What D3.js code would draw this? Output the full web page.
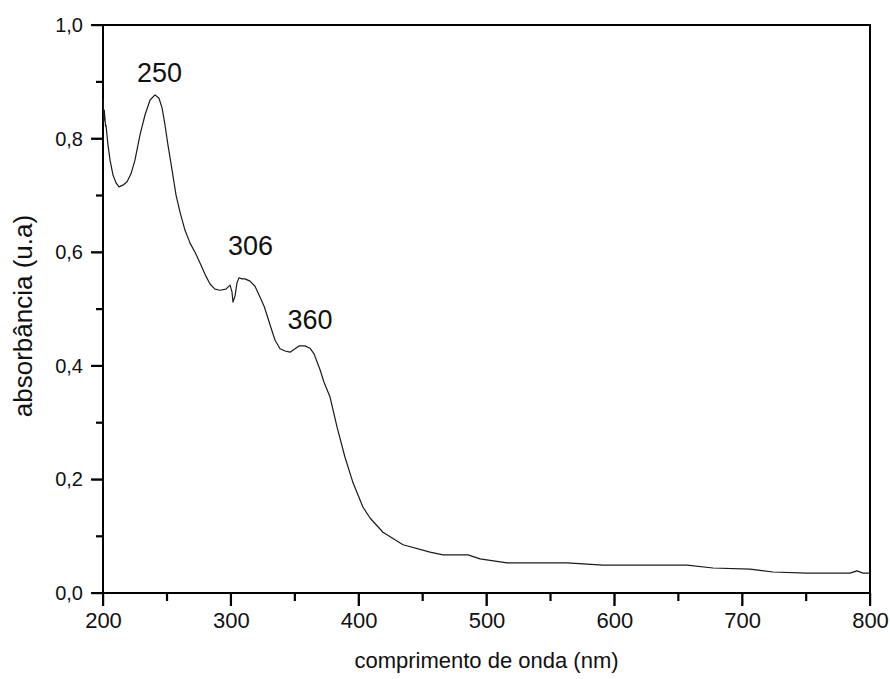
<!DOCTYPE html>
<html><head><meta charset="utf-8">
<script src="https://cdn.jsdelivr.net/npm/d3@7"></script>
<style>
body{margin:0;background:#fff;}
text{font-family:Arial,"Liberation Sans",sans-serif;fill:#111;}
</style></head>
<body><svg id="c" width="890" height="679"></svg>
<script>
const wavelength = [200,200.5,201,202,202.3,203.9,205.5,207.8,210.2,212.5,215.6,218.8,221.9,225,228.9,232.9,236.8,240.7,243.8,246.2,248.5,250.8,254,257.1,260.2,264.1,268.1,272,275.9,279.8,283.7,287.6,291.5,296.2,299.4,300.9,301.7,303.3,304.8,306.4,308.7,311.1,315,318.9,322.8,326,328.3,331.4,334.6,338.5,342.4,346.3,350.2,353.3,358,361.9,365.1,367.4,369.8,372.9,377.6,383.1,389.3,395.6,403.4,408.9,419,434.7,455.8,466,485.5,494.9,516,563,591.1,656.9,677.2,706.1,724.1,750.7,784.3,789.8,794.5,799.2];
const absorbance = [0.870,0.830,0.850,0.822,0.824,0.789,0.762,0.736,0.722,0.715,0.718,0.724,0.738,0.762,0.806,0.842,0.868,0.877,0.871,0.854,0.824,0.789,0.745,0.701,0.671,0.639,0.616,0.600,0.581,0.561,0.544,0.535,0.533,0.535,0.542,0.530,0.512,0.523,0.546,0.555,0.553,0.553,0.549,0.540,0.521,0.505,0.489,0.467,0.445,0.430,0.426,0.424,0.430,0.435,0.435,0.431,0.421,0.407,0.393,0.371,0.345,0.292,0.239,0.194,0.151,0.132,0.107,0.085,0.072,0.067,0.067,0.060,0.053,0.053,0.049,0.049,0.044,0.042,0.037,0.035,0.035,0.039,0.035,0.035];
const xMajorTicks = [200,300,400,500,600,700,800];
const xMinorTicks = [250,350,450,550,650,750];
const yMajorTicks = [0,0.2,0.4,0.6,0.8,1.0];
const yMinorTicks = [0.1,0.3,0.5,0.7,0.9];
const peakLabels = ["250","306","360"];
const peakLabelX = [244.2,315.4,361.9];
const peakLabelY = [0.900,0.595,0.465];

const svg = d3.select("#c");
const L=103,R=870,T=25,B=593;
const x = d3.scaleLinear().domain([200,800]).range([L,R]);
const y = d3.scaleLinear().domain([0,1]).range([B,T]);
const fmt = d => d3.format(".1f")(d).replace(".",",");

// tick marks as filled rects
const tk = svg.append("g").attr("fill","#000");
tk.selectAll(".xM").data(xMajorTicks).enter().append("rect")
  .attr("x",d=>x(d)-1).attr("y",B).attr("width",2.2).attr("height",13);
tk.selectAll(".xm").data(xMinorTicks).enter().append("rect")
  .attr("x",d=>x(d)-1).attr("y",B).attr("width",2.2).attr("height",8);
tk.selectAll(".yM").data(yMajorTicks).enter().append("rect")
  .attr("y",d=>y(d)-1).attr("x",L-12).attr("height",2.2).attr("width",12);
tk.selectAll(".ym").data(yMinorTicks).enter().append("rect")
  .attr("y",d=>y(d)-1).attr("x",L-7).attr("height",2.2).attr("width",7);

// labels through axes (no tick lines)
const gx = svg.append("g").attr("transform",`translate(0,${B})`)
  .call(d3.axisBottom(x).tickValues(xMajorTicks).tickSizeInner(12).tickSizeOuter(0).tickPadding(7).tickFormat(d3.format("d")));
const gy = svg.append("g").attr("transform",`translate(${L},0)`)
  .call(d3.axisLeft(y).tickValues(yMajorTicks).tickSizeInner(11).tickSizeOuter(0).tickPadding(9).tickFormat(fmt));
svg.selectAll(".domain").remove();
gx.selectAll("text").attr("font-size",22).attr("fill","#111");
gy.selectAll("text").attr("font-size",20).attr("fill","#111");

// frame
svg.append("rect").attr("x",L).attr("y",T).attr("width",R-L).attr("height",B-T)
  .attr("fill","none").attr("stroke","#000").attr("stroke-width",2);

// data line
const line = d3.line().x((d,i)=>x(wavelength[i])).y(d=>y(d));
svg.append("path").datum(absorbance).attr("d",line)
  .attr("fill","none").attr("stroke","#1a1a1a").attr("stroke-width",1.2).attr("stroke-linejoin","round");

// peak labels
svg.selectAll(".pk").data(peakLabels).enter().append("text")
  .attr("x",(d,i)=>x(peakLabelX[i]))
  .attr("y",(d,i)=>y(peakLabelY[i]))
  .attr("text-anchor","middle").attr("font-size",27).text(d=>d);

// axis titles
svg.append("text").attr("x",(L+R)/2).attr("y",668).attr("text-anchor","middle")
  .attr("font-size",22).text("comprimento de onda (nm)");
svg.append("text").attr("transform",`translate(32,316) rotate(-90)`)
  .attr("text-anchor","middle").attr("font-size",26).text("absorbância (u.a)");
</script></body></html>
